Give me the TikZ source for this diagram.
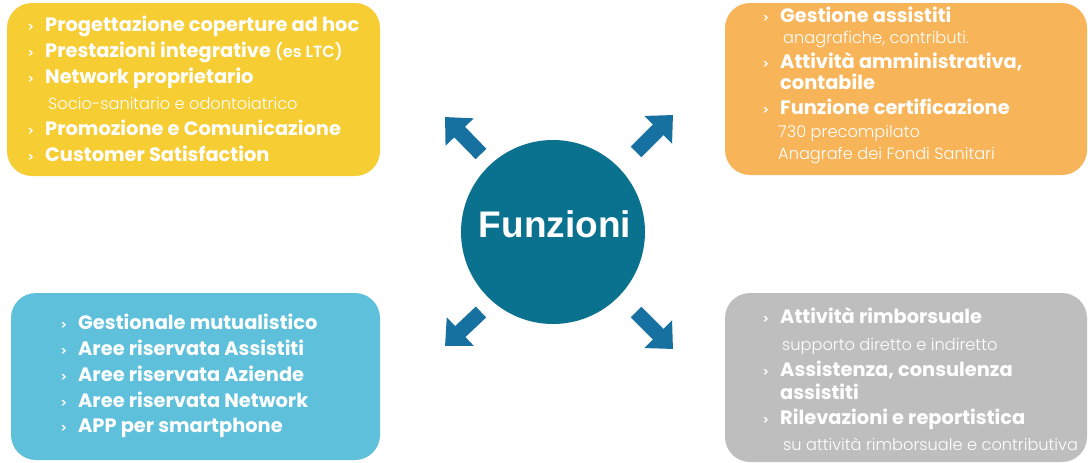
\documentclass[tikz,border=0pt]{standalone}
\usepackage{fontspec}
\setmainfont{Poppins}
\newfontfamily\lightfont{Poppins Light}
\newfontfamily\arialfont{Liberation Sans}
\usetikzlibrary{arrows.meta,positioning}

\definecolor{boxyellow}{RGB}{246,205,51}
\definecolor{boxorange}{RGB}{248,180,88}
\definecolor{boxblue}{RGB}{94,192,218}
\definecolor{boxgray}{RGB}{190,190,190}
\definecolor{circteal}{RGB}{10,114,142}
\definecolor{arrowblue}{RGB}{22,112,160}

\newcommand{\chev}{\llap{{\lightfont\fontsize{12}{12}\selectfont >}\hspace{11pt}}}

\begin{document}
\begin{tikzpicture}[x=1pt,y=-1pt,
  panel/.style={rounded corners=25pt},
  bold/.style={anchor=base west,inner sep=0pt,text=white,font=\bfseries\fontsize{19.4}{19.4}\selectfont},
  light/.style={anchor=base west,inner sep=0pt,text=white,font=\lightfont\fontsize{16.2}{16.2}\selectfont},
  bigarrow/.style={arrowblue,line width=15pt,-{Triangle[width=38pt,length=21pt]}}]
  \useasboundingbox (0,0) rectangle (1088,463);

  % the four panels
  \fill[boxyellow,panel] (7,3) rectangle (380,176);
  \fill[boxorange,panel] (725,3) rectangle (1087,175);
  \fill[boxblue,panel]   (11,293) rectangle (380,460);
  \fill[boxgray,panel]   (725,293) rectangle (1087,462);

  % centre
  \node[circle,fill=circteal,minimum size=184pt,inner sep=0pt] (fz) at (553,232) {};
  \node[text=white,font=\arialfont\bfseries\fontsize{37}{37}\selectfont,inner sep=0pt] (fztext) at (555,224) {Funzioni};

  \coordinate (ul0) at (481,154); \coordinate (ul1) at (445,117);
  \coordinate (ur0) at (636,152); \coordinate (ur1) at (673,115);
  \coordinate (ll0) at (481,312); \coordinate (ll1) at (445,346);
  \coordinate (lr0) at (636,312); \coordinate (lr1) at (673,349);
  \draw[bigarrow] (ul0) -- (ul1);
  \draw[bigarrow] (ur0) -- (ur1);
  \draw[bigarrow] (ll0) -- (ll1);
  \draw[bigarrow] (lr0) -- (lr1);

  % yellow panel
  \node[bold]  (y1) at (45,31)  {\chev Progettazione coperture ad hoc};
  \node[bold]  (y2) at (45,57)  {\chev Prestazioni integrative {\lightfont\fontsize{16.2}{16.2}\selectfont (es LTC)}};
  \node[bold]  (y3) at (45,83)  {\chev Network proprietario};
  \node[light] (y4) at (48,109) {Socio-sanitario e odontoiatrico};
  \node[bold]  (y5) at (45,135) {\chev Promozione e Comunicazione};
  \node[bold]  (y6) at (45,161) {\chev Customer Satisfaction};

  % orange panel
  \node[bold]  (o1) at (780,23)  {\chev Gestione assistiti};
  \node[light] (o2) at (783,43)  {anagrafiche, contributi.};
  \node[bold]  (o3) at (780,68)  {\chev Attività amministrativa,};
  \node[bold]  (o4) at (780,89)  {contabile};
  \node[bold]  (o5) at (780,114) {\chev Funzione certificazione};
  \node[light] (o6) at (778,137) {730 precompilato};
  \node[light] (o7) at (778,159) {Anagrafe dei Fondi Sanitari};

  % blue panel
  \node[bold] (b1) at (78,329) {\chev Gestionale mutualistico};
  \node[bold] (b2) at (78,355) {\chev Aree riservata Assistiti};
  \node[bold] (b3) at (78,381) {\chev Aree riservata Aziende};
  \node[bold] (b4) at (78,407) {\chev Aree riservata Network};
  \node[bold] (b5) at (78,432) {\chev APP per smartphone};

  % gray panel
  \node[bold]  (g1) at (780,323) {\chev Attività rimborsuale};
  \node[light] (g2) at (782,350) {supporto diretto e indiretto};
  \node[bold]  (g3) at (780,376) {\chev Assistenza, consulenza};
  \node[bold]  (g4) at (780,399) {assistiti};
  \node[bold]  (g5) at (780,424) {\chev Rilevazioni e reportistica};
  \node[light] (g6) at (783,450) {su attività rimborsuale e contributiva};
\end{tikzpicture}
\end{document}
